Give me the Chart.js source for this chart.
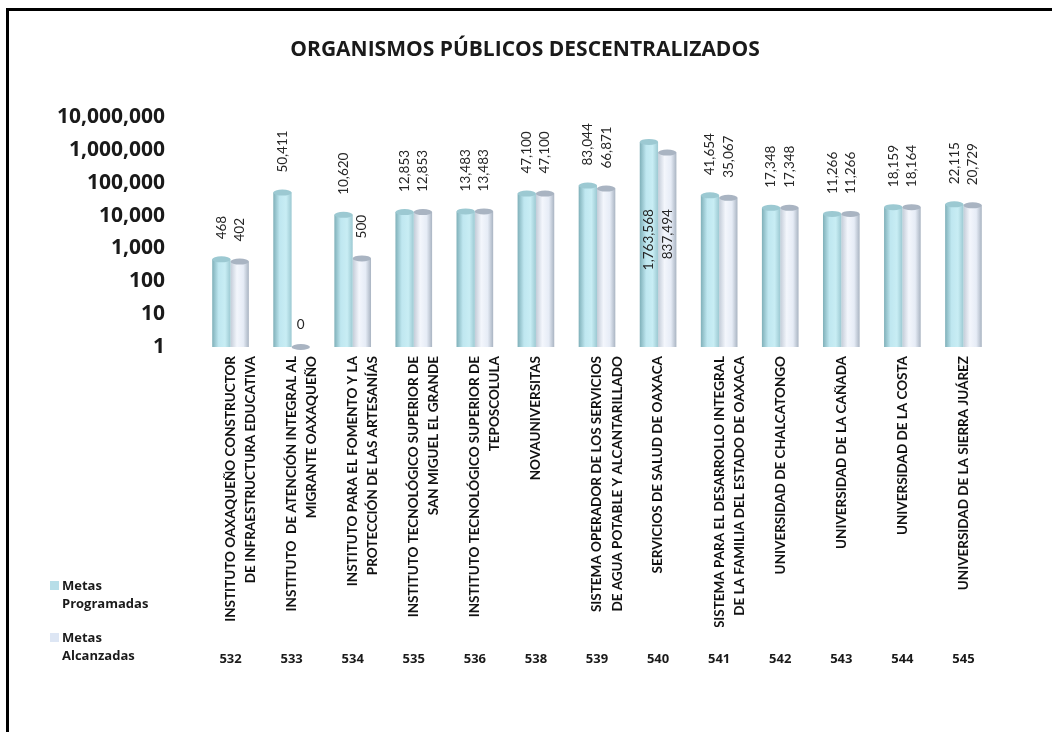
<!DOCTYPE html>
<html>
<head>
<meta charset="utf-8">
<script src="https://cdn.jsdelivr.net/npm/chart.js@4/dist/chart.umd.min.js"></script>
<style>
  html, body { margin: 0; padding: 0; background: #fff; }
  #wrap { position: relative; width: 1052px; height: 732px; overflow: hidden; }
  #frame { position: absolute; left: 6px; top: 8px; right: -10px; bottom: -10px;
           border-top: 3px solid #000; border-left: 3px solid #000; }
  canvas { position: absolute; left: 0; top: 0; }
  #legend { position: absolute; left: 50px; top: 576px; width: 100px;
            font: bold 13px "Open Sans", sans-serif; color: #1a1a1a; }
  .item { position: relative; padding-left: 12px; line-height: 18px; margin-bottom: 16px; }
  .sw { position: absolute; left: 0; top: 5px; width: 9px; height: 9px; }
</style>
</head>
<body>
<div id="wrap">
  <div id="frame"></div>
  <canvas id="chart" width="1052" height="732"></canvas>
  <div id="legend"></div>
</div>
<script>
const titleText = "ORGANISMOS PÚBLICOS DESCENTRALIZADOS";

const categories = [
  ["INSTITUTO OAXAQUEÑO CONSTRUCTOR", "DE INFRAESTRUCTURA EDUCATIVA"],
  ["INSTITUTO  DE ATENCIÓN INTEGRAL AL", "MIGRANTE OAXAQUEÑO"],
  ["INSTITUTO PARA EL FOMENTO Y LA", "PROTECCIÓN DE LAS ARTESANÍAS"],
  ["INSTITUTO TECNOLÓGICO SUPERIOR DE", "SAN MIGUEL EL GRANDE"],
  ["INSTITUTO TECNOLÓGICO SUPERIOR DE", "TEPOSCOLULA"],
  ["NOVAUNIVERSITAS"],
  ["SISTEMA OPERADOR DE LOS SERVICIOS", "DE AGUA POTABLE Y ALCANTARILLADO"],
  ["SERVICIOS DE SALUD DE OAXACA"],
  ["SISTEMA PARA EL DESARROLLO INTEGRAL", "DE LA FAMILIA DEL ESTADO DE OAXACA"],
  ["UNIVERSIDAD DE CHALCATONGO"],
  ["UNIVERSIDAD DE LA CAÑADA"],
  ["UNIVERSIDAD DE LA COSTA"],
  ["UNIVERSIDAD DE LA SIERRA JUÁREZ"]
];

const codes = ["532", "533", "534", "535", "536", "538", "539", "540", "541", "542", "543", "544", "545"];

const metasProgramadas = [468, 50411, 10620, 12853, 13483, 47100, 83044, 1763568, 41654, 17348, 11266, 18159, 22115];
const metasAlcanzadas = [402, 0, 500, 12853, 13483, 47100, 66871, 837494, 35067, 17348, 11266, 18164, 20729];

const yTicks = [1, 10, 100, 1000, 10000, 100000, 1000000, 10000000];

const seriesNames = ["Metas Programadas", "Metas Alcanzadas"];
const legendColors = ["#b7dee8", "#dde6f4"];
const cylStops = [
  ["#7fb0b9", "#bfe7f0", "#c8edf4", "#9cc9d2"],
  ["#c3ccd8", "#f3f6fc", "#e6ecf6", "#a9b4c2"]
];

const headFont = "'Open Sans', sans-serif";
const labelFont = "Lato, sans-serif";
const catPct = 0.6;

function cylinderFill(c, ds) {
  const chart = c.chart;
  const xs = chart.scales.x;
  if (c.type !== "data" || !xs || !xs.width) return legendColors[ds];
  const cw = xs.width / categories.length;
  const bw = cw * catPct / 2;
  const cx = xs.getPixelForValue(c.dataIndex);
  const left = ds === 0 ? cx - bw : cx;
  const g = chart.ctx.createLinearGradient(left, 0, left + bw, 0);
  const s = cylStops[ds];
  g.addColorStop(0, s[0]);
  g.addColorStop(0.35, s[1]);
  g.addColorStop(0.7, s[2]);
  g.addColorStop(1, s[3]);
  return g;
}

// tapas de cilindro
const cylinderTops = {
  id: "cylinderTops",
  afterDatasetsDraw(chart) {
    const ctx = chart.ctx;
    ctx.save();
    chart.data.datasets.forEach((ds, i) => {
      chart.getDatasetMeta(i).data.forEach((bar) => {
        ctx.beginPath();
        ctx.ellipse(bar.x, bar.y, bar.width / 2, 3, 0, 0, Math.PI * 2);
        ctx.fillStyle = cylStops[i][3];
        ctx.fill();
      });
    });
    ctx.restore();
  }
};

// etiquetas de valor verticales
const valueLabels = {
  id: "valueLabels",
  afterDatasetsDraw(chart) {
    const { ctx, chartArea } = chart;
    ctx.save();
    ctx.font = "13.5px " + labelFont;
    ctx.fillStyle = "#262626";
    chart.data.datasets.forEach((ds, i) => {
      chart.getDatasetMeta(i).data.forEach((bar, j) => {
        const v = ds.data[j];
        const txt = v.toLocaleString("en-US");
        if (v === 0) {
          ctx.textAlign = "center";
          ctx.textBaseline = "middle";
          ctx.fillText(txt, bar.x, bar.y - 22);
          return;
        }
        const w = ctx.measureText(txt).width;
        ctx.save();
        ctx.translate(bar.x, bar.y);
        ctx.rotate(-Math.PI / 2);
        ctx.textBaseline = "middle";
        if (bar.y - 20 - w < chartArea.top) {
          ctx.textAlign = "right";
          ctx.fillText(txt, bar.y - (chartArea.top + 92), 0);
        } else {
          ctx.textAlign = "left";
          ctx.fillText(txt, 20, 0);
        }
        ctx.restore();
      });
    });
    ctx.restore();
  }
};

const chart = new Chart(document.getElementById("chart"), {
  type: "bar",
  data: {
    labels: categories,
    datasets: [
      {
        label: seriesNames[0],
        data: metasProgramadas,
        backgroundColor: (c) => cylinderFill(c, 0)
      },
      {
        label: seriesNames[1],
        data: metasAlcanzadas,
        backgroundColor: (c) => cylinderFill(c, 1)
      }
    ]
  },
  options: {
    responsive: false,
    animation: false,
    categoryPercentage: catPct,
    barPercentage: 1,
    layout: { padding: { left: 56, right: 58, top: 0, bottom: 65 } },
    plugins: {
      legend: { display: false },
      tooltip: { enabled: false },
      title: {
        display: true,
        text: titleText,
        color: "#1a1a1a",
        font: { family: headFont, size: 21, weight: "bold" },
        padding: { top: 37, bottom: 55 }
      }
    },
    scales: {
      y: {
        type: "logarithmic",
        min: 1,
        max: 10000000,
        afterBuildTicks: (axis) => { axis.ticks = yTicks.map((v) => ({ value: v })); },
        afterFit: (axis) => { axis.width = 144; },
        grid: { display: false, drawTicks: false },
        border: { display: false },
        ticks: {
          autoSkip: false,
          color: "#1a1a1a",
          padding: 35,
          font: { family: headFont, size: 21, weight: "bold" },
          callback: (v) => Number(v).toLocaleString("en-US")
        }
      },
      x: {
        afterFit: (axis) => { axis.height = 280; },
        grid: { display: false, drawTicks: false },
        border: { display: false },
        ticks: {
          minRotation: 90,
          maxRotation: 90,
          autoSkip: false,
          padding: 9,
          color: "#111",
          font: { family: labelFont, size: 13.5, weight: "bold", lineHeight: 1.5 }
        }
      },
      x2: {
        type: "category",
        position: "bottom",
        labels: codes,
        afterFit: (axis) => { axis.height = 40; },
        grid: { display: false, drawTicks: false },
        border: { display: false },
        ticks: {
          autoSkip: false,
          maxRotation: 0,
          padding: 24,
          color: "#1a1a1a",
          font: { family: headFont, size: 13, weight: "bold" }
        }
      }
    }
  },
  plugins: [cylinderTops, valueLabels]
});

// leyenda a la izquierda, como en el original
const legend = document.getElementById("legend");
chart.data.datasets.forEach((ds, i) => {
  const item = document.createElement("div");
  item.className = "item";
  item.innerHTML = '<span class="sw" style="background:' + legendColors[i] + '"></span>' + ds.label;
  legend.appendChild(item);
});
</script>
</body>
</html>
